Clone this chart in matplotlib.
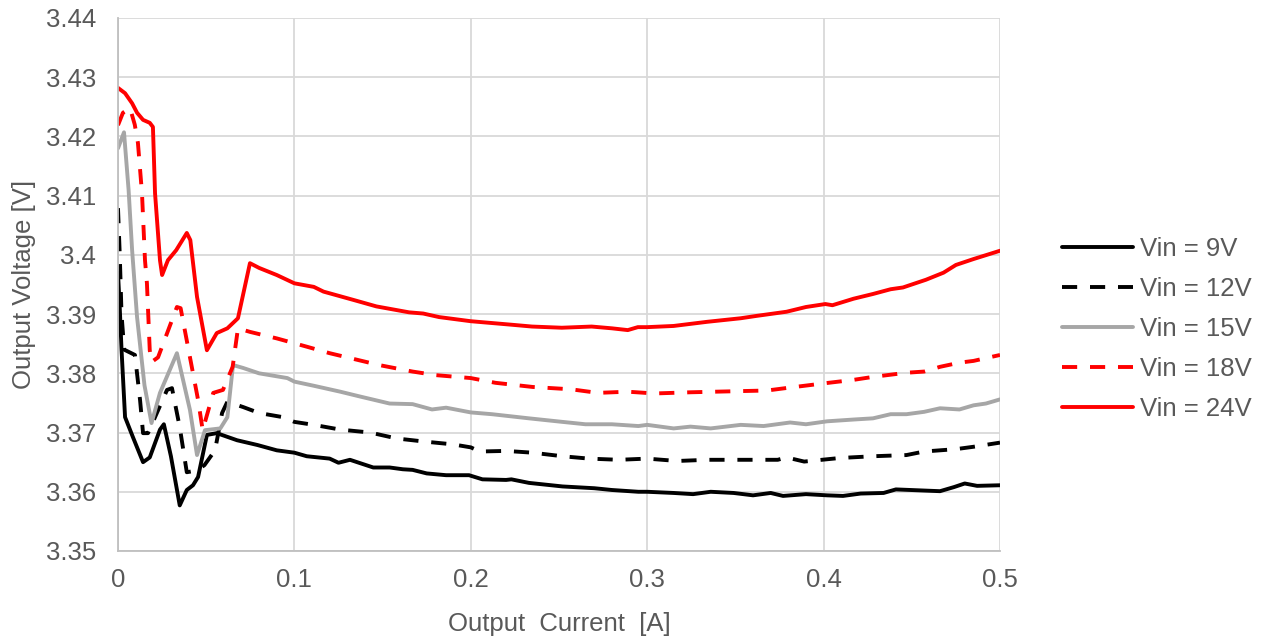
import matplotlib
matplotlib.use("Agg")
import matplotlib.pyplot as plt

plt.rcParams['font.family'] = ['Liberation Sans', 'DejaVu Sans']

# data
x_9v = [0, 0.001, 0.002, 0.004, 0.0085, 0.0142, 0.018, 0.0238, 0.026, 0.030,
        0.035, 0.039, 0.0425, 0.0454, 0.0504, 0.056, 0.0675, 0.079, 0.090, 0.1,
        0.107, 0.120, 0.125, 0.1315, 0.1447, 0.154, 0.1615, 0.167, 0.175, 0.186,
        0.199, 0.2066, 0.22, 0.223, 0.233, 0.252, 0.270, 0.280, 0.295, 0.3,
        0.315, 0.326, 0.336, 0.349, 0.360, 0.370, 0.377, 0.390, 0.402, 0.411,
        0.421, 0.434, 0.441, 0.466, 0.474, 0.480, 0.487, 0.5]
y_9v = [3.397, 3.391, 3.384, 3.3726, 3.3692, 3.3650, 3.3658, 3.3705, 3.3714, 3.3660,
        3.3577, 3.3603, 3.3611, 3.3625, 3.3696, 3.3699, 3.3687, 3.3679, 3.3670, 3.3666,
        3.3660, 3.3656, 3.3649, 3.3654, 3.3641, 3.3641, 3.3638, 3.3637, 3.3631, 3.3628,
        3.3628, 3.3621, 3.3620, 3.3621, 3.3615, 3.3609, 3.3606, 3.3603, 3.3600, 3.3600,
        3.3598, 3.3596, 3.3600, 3.3598, 3.3594, 3.3598, 3.3593, 3.3596, 3.3594, 3.3593,
        3.3597, 3.3598, 3.3604, 3.3601, 3.3608, 3.3614, 3.3610, 3.3611]

x_12v = [0, 0.001, 0.002, 0.0035, 0.0096, 0.0125, 0.0142, 0.017, 0.0278, 0.0306,
         0.035, 0.039, 0.0448, 0.049, 0.055, 0.059, 0.062, 0.071, 0.080, 0.0935,
         0.1, 0.111, 0.126, 0.143, 0.158, 0.173, 0.19, 0.2, 0.205, 0.22,
         0.235, 0.252, 0.267, 0.284, 0.3, 0.317, 0.334, 0.353, 0.374, 0.379,
         0.389, 0.409, 0.428, 0.447, 0.457, 0.475, 0.485, 0.5]
y_12v = [3.4079, 3.400, 3.390, 3.3840, 3.3831, 3.3755, 3.3699, 3.3699, 3.3772, 3.3775,
         3.3709, 3.3633, 3.3636, 3.3645, 3.3670, 3.3733, 3.3752, 3.3743, 3.3733, 3.3726,
         3.3718, 3.3713, 3.3705, 3.3700, 3.3690, 3.3685, 3.3680, 3.3675, 3.3668, 3.3669,
         3.3666, 3.3660, 3.3656, 3.3654, 3.3656, 3.3652, 3.3654, 3.3654, 3.3654, 3.3658,
         3.3651, 3.3657, 3.3660, 3.3662, 3.3668, 3.3672, 3.3676, 3.3683]

x_15v = [0, 0.0034, 0.006, 0.008, 0.0108, 0.015, 0.019, 0.0238, 0.0334, 0.0408,
         0.0448, 0.0493, 0.058, 0.062, 0.0652, 0.071, 0.080, 0.096, 0.1, 0.111,
         0.126, 0.137, 0.154, 0.167, 0.178, 0.186, 0.2, 0.212, 0.233, 0.252,
         0.265, 0.280, 0.295, 0.3, 0.315, 0.3245, 0.336, 0.353, 0.366, 0.381,
         0.390, 0.402, 0.417, 0.428, 0.438, 0.447, 0.457, 0.466, 0.477, 0.485,
         0.492, 0.5]
y_15v = [3.4180, 3.4207, 3.4110, 3.4008, 3.3895, 3.3780, 3.3716, 3.3767, 3.3834, 3.3738,
         3.3662, 3.3704, 3.3707, 3.3726, 3.3814, 3.3809, 3.3800, 3.3792, 3.3786, 3.3779,
         3.3769, 3.3761, 3.3749, 3.3748, 3.3739, 3.3742, 3.3734, 3.3731, 3.3724, 3.3718,
         3.3714, 3.3714, 3.3711, 3.3713, 3.3707, 3.3710, 3.3707, 3.3713, 3.3711, 3.3717,
         3.3714, 3.3719, 3.3722, 3.3724, 3.3731, 3.3731, 3.3735, 3.3741, 3.3739, 3.3746,
         3.3749, 3.3756]

x_18v = [0, 0.0028, 0.0068, 0.0095, 0.0113, 0.0136, 0.0153, 0.0164, 0.018, 0.019,
         0.0227, 0.0334, 0.0355, 0.0454, 0.048, 0.054, 0.0595, 0.065, 0.068, 0.0748,
         0.090, 0.107, 0.120, 0.148, 0.167, 0.180, 0.2, 0.214, 0.235, 0.257,
         0.272, 0.289, 0.304, 0.3245, 0.353, 0.368, 0.381, 0.400, 0.417, 0.428,
         0.447, 0.457, 0.466, 0.477, 0.485, 0.5]
y_18v = [3.4219, 3.4240, 3.4248, 3.4220, 3.4189, 3.4104, 3.3991, 3.3952, 3.3839, 3.3819,
         3.3827, 3.3912, 3.3910, 3.3755, 3.3704, 3.3767, 3.3772, 3.3811, 3.3876, 3.3870,
         3.3859, 3.3845, 3.3834, 3.3814, 3.3803, 3.3797, 3.3792, 3.3784, 3.3777, 3.3773,
         3.3767, 3.3769, 3.3766, 3.3768, 3.3770, 3.3771, 3.3776, 3.3783, 3.3789, 3.3794,
         3.3801, 3.3803, 3.3811, 3.3818, 3.3821, 3.3831]

x_24v = [0, 0.004, 0.008, 0.0108, 0.0142, 0.018, 0.0198, 0.021, 0.0238, 0.025,
         0.0283, 0.033, 0.039, 0.041, 0.0448, 0.0504, 0.056, 0.062, 0.068, 0.0748,
         0.080, 0.090, 0.1, 0.111, 0.1165, 0.1334, 0.1465, 0.165, 0.173, 0.182,
         0.2, 0.2234, 0.2347, 0.2516, 0.2685, 0.280, 0.289, 0.2947, 0.3, 0.315,
         0.334, 0.353, 0.362, 0.379, 0.390, 0.401, 0.405, 0.417, 0.428, 0.438,
         0.445, 0.458, 0.468, 0.475, 0.485, 0.5]
y_24v = [3.4282, 3.4273, 3.4256, 3.4240, 3.4228, 3.4223, 3.4216, 3.4104, 3.3991, 3.3966,
         3.3991, 3.4008, 3.4037, 3.4025, 3.3929, 3.3839, 3.3868, 3.3876, 3.3893, 3.3986,
         3.3978, 3.3966, 3.3952, 3.3946, 3.3938, 3.3924, 3.3913, 3.3903, 3.3901, 3.3895,
         3.3888, 3.3882, 3.3879, 3.3877, 3.3879, 3.3876, 3.3873, 3.3878, 3.3878, 3.3880,
         3.3887, 3.3893, 3.3897, 3.3904, 3.3912, 3.3917, 3.3915, 3.3926, 3.3934, 3.3942,
         3.3945, 3.3958, 3.3970, 3.3983, 3.3993, 3.4007]

labels = ['Vin = 9V', 'Vin = 12V', 'Vin = 15V', 'Vin = 18V', 'Vin = 24V']
colors = ['#000000', '#000000', '#A6A6A6', '#FF0000', '#FF0000']
dashed = [False, True, False, True, False]

x_ticks = [0, 0.1, 0.2, 0.3, 0.4, 0.5]
x_tick_labels = ['0', '0.1', '0.2', '0.3', '0.4', '0.5']
y_ticks = [3.35, 3.36, 3.37, 3.38, 3.39, 3.40, 3.41, 3.42, 3.43, 3.44]
y_tick_labels = ['3.35', '3.36', '3.37', '3.38', '3.39', '3.4', '3.41', '3.42', '3.43', '3.44']

text_col = '#595959'
grid_col = '#D9D9D9'
fs = 18.5

fig = plt.figure(figsize=(12.66, 6.41), dpi=100)
ax = fig.add_axes([118 / 1266, 90 / 641, 882 / 1266, 533 / 641])

series = [(x_9v, y_9v), (x_12v, y_12v), (x_15v, y_15v), (x_18v, y_18v), (x_24v, y_24v)]
for (xs, ys), lab, c, d in zip(series, labels, colors, dashed):
    line, = ax.plot(xs, ys, color=c, lw=2.8, label=lab,
                    solid_joinstyle='round', solid_capstyle='round')
    if d:
        line.set_dashes([3.9, 3.3])
        line.set_dash_capstyle('butt')

ax.set_xlim(0, 0.5)
ax.set_ylim(3.35, 3.44)
ax.set_xticks(x_ticks)
ax.set_xticklabels(x_tick_labels)
ax.set_yticks(y_ticks)
ax.set_yticklabels(y_tick_labels)
ax.tick_params(axis='both', length=0, labelsize=fs, labelcolor=text_col)
ax.tick_params(axis='x', pad=12)
ax.tick_params(axis='y', pad=16)
ax.grid(True, color=grid_col, lw=1.3)
ax.set_axisbelow(True)
for side in ['top', 'right']:
    ax.spines[side].set_visible(False)
for side in ['left', 'bottom']:
    ax.spines[side].set_color('#BFBFBF')
    ax.spines[side].set_linewidth(1.3)

ax.set_xlabel('Output  Current  [A]', fontsize=fs, color=text_col, labelpad=15)
ax.set_ylabel('Output Voltage [V]', fontsize=fs, color=text_col, labelpad=7)

fig.legend(loc='center left', bbox_to_anchor=(1062 / 1266, 1 - 329 / 641),
           bbox_transform=fig.transFigure, frameon=False, fontsize=fs,
           handlelength=2.75, handletextpad=0.3, labelspacing=0.62,
           borderpad=0, borderaxespad=0, labelcolor=text_col)

fig.savefig('out.png', dpi=100)
